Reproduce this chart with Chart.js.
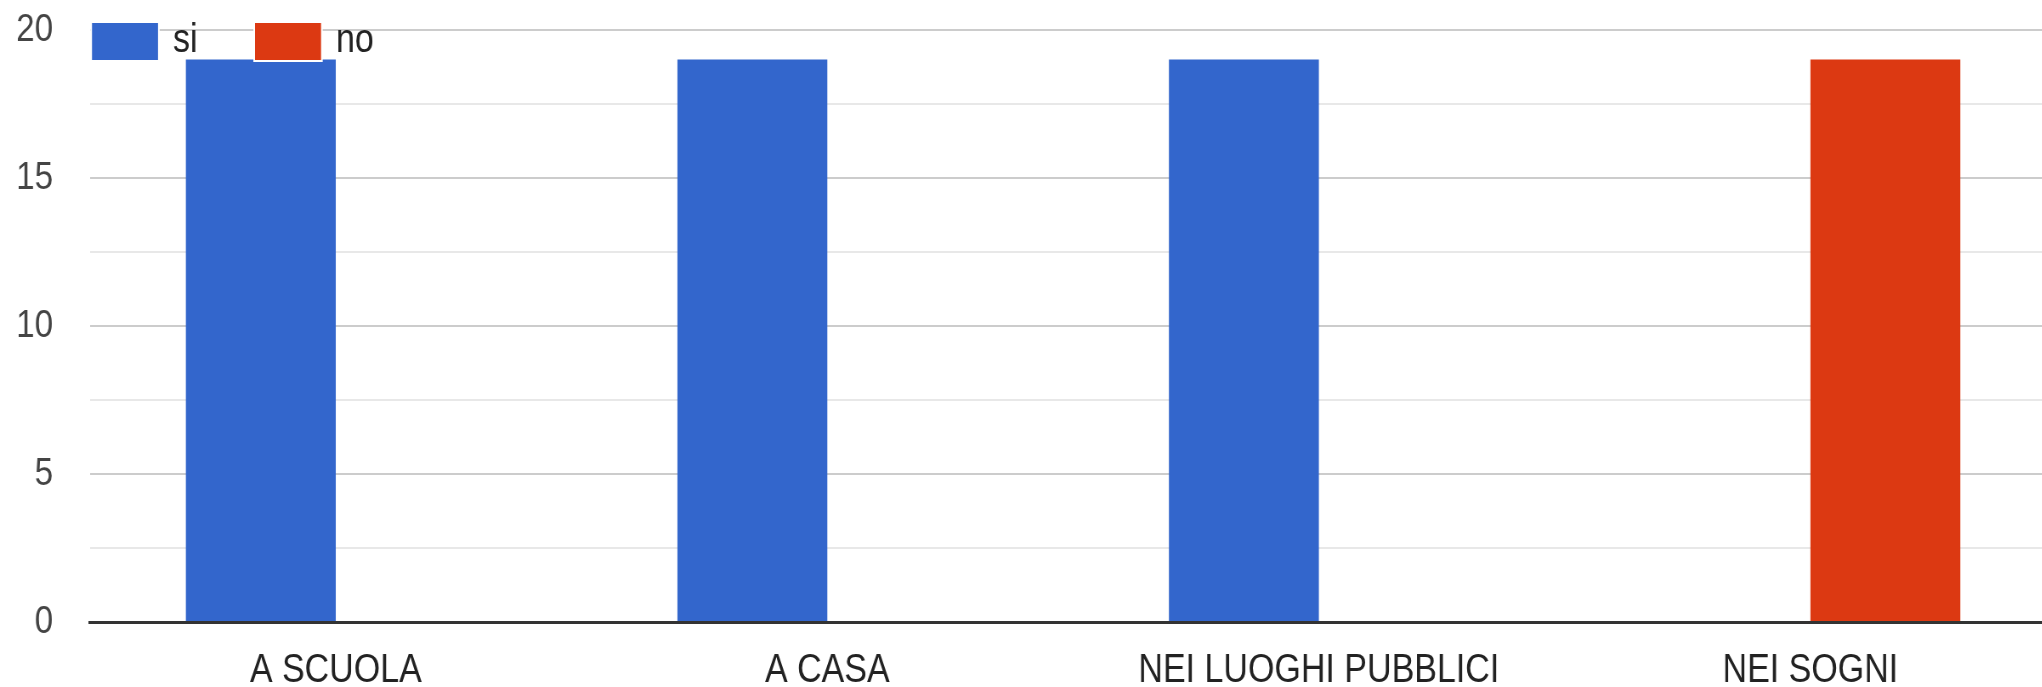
<!DOCTYPE html>
<html>
<head>
<meta charset="utf-8">
<script src="https://cdn.jsdelivr.net/npm/chart.js@4.4.1/dist/chart.umd.min.js"></script>
<style>
  html, body { margin: 0; padding: 0; background: #fff; overflow: hidden; }
  /* l'originale ha il testo compresso in orizzontale */
  #myChart { transform: scaleX(0.85); transform-origin: 0 0; }
</style>
</head>
<body>
<canvas id="myChart" width="2419" height="687"></canvas>
<script>
const categorie = ['A SCUOLA', 'A CASA', 'NEI LUOGHI PUBBLICI', 'NEI SOGNI'];
const valoriSi = [19, 19, 19, null];
const valoriNo = [null, null, null, 19];
const etichetteY = [0, 5, 10, 15, 20];

const S = 0.85;
const FONT = "'Liberation Sans', Arial, sans-serif";

// legenda in alto a sinistra, sopra l'area del grafico
const legendaAngolo = {
    id: 'legendaAngolo',
    afterDraw(chart) {
        const ctx = chart.ctx;
        const area = chart.chartArea;
        ctx.save();
        ctx.font = '40px ' + FONT;
        ctx.textBaseline = 'middle';
        ctx.textAlign = 'left';
        chart.data.datasets.forEach((ds, i) => {
            const x = area.left + 2 / S + i * 163 / S;
            const y = area.top - 7;
            ctx.fillStyle = '#ffffff';
            ctx.fillRect(x - 2, y - 2, 66 / S + 4, 41);
            ctx.fillStyle = ds.backgroundColor;
            ctx.fillRect(x, y, 66 / S, 37);
            ctx.fillStyle = '#222222';
            ctx.fillText(ds.label, x + 81 / S, y + 18);
        });
        ctx.restore();
    }
};

const ctx = document.getElementById('myChart').getContext('2d');
const myChart = new Chart(ctx, {
    type: 'bar',
    data: {
        labels: categorie,
        datasets: [{
            label: 'si',
            data: valoriSi,
            backgroundColor: '#3366cc',
            borderWidth: 0
        },
        {
            label: 'no',
            data: valoriNo,
            backgroundColor: '#dc3912',
            borderWidth: 0
        }]
    },
    options: {
        responsive: false,
        animation: false,
        devicePixelRatio: 1,
        layout: { padding: { top: 30, left: 0, right: 0, bottom: 0 } },
        datasets: {
            bar: { categoryPercentage: 0.61, barPercentage: 1.0 }
        },
        plugins: {
            legend: { display: false },
            tooltip: { enabled: false }
        },
        scales: {
            x: {
                grid: { display: false, drawTicks: false },
                border: { display: true, color: '#333333', width: 3, z: 1 },
                ticks: {
                    color: '#222222',
                    padding: 25,
                    maxRotation: 0,
                    autoSkip: false,
                    font: { family: FONT, size: 40 }
                },
                afterFit(scale) {
                    scale.height = 65;
                    scale.paddingLeft = 0;
                    scale.paddingRight = 0;
                }
            },
            y: {
                min: 0,
                max: 20,
                grid: {
                    drawTicks: false,
                    lineWidth: 2,
                    color: (c) => {
                        const v = c.tick ? c.tick.value : 0;
                        if (v === 0) return '#333333';
                        return etichetteY.includes(v) ? '#cccccc' : '#e8e8e8';
                    }
                },
                border: { display: false },
                ticks: {
                    stepSize: 2.5,
                    color: '#444444',
                    padding: 37 / S,
                    font: { family: FONT, size: 39 },
                    callback: (v) => etichetteY.includes(v) ? String(v) : ''
                },
                afterFit(scale) {
                    scale.width = 90 / S;
                    scale.paddingTop = 0;
                    scale.paddingBottom = 0;
                }
            }
        }
    },
    plugins: [legendaAngolo]
});
</script>
</body>
</html>
